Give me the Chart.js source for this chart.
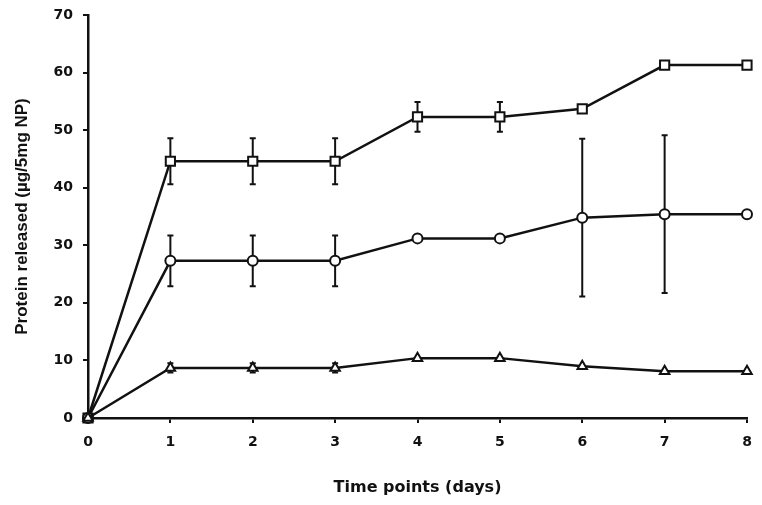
<!DOCTYPE html>
<html>
<head>
<meta charset="utf-8">
<script src="https://cdn.jsdelivr.net/npm/chart.js@4"></script>
<style>
html,body{margin:0;padding:0;background:#fff;}
#wrap{width:762px;height:505px;}
</style>
</head>
<body>
<div id="wrap"><canvas id="c" width="762" height="505"></canvas></div>
<script>
const days = [0, 1, 2, 3, 4, 5, 6, 7, 8];
const squareValues = [0, 44.6, 44.6, 44.6, 52.3, 52.3, 53.7, 61.3, 61.3];
const squareErrors = [0, 4.0, 4.0, 4.0, 2.6, 2.6, 0, 0, 0];
const circleValues = [0, 27.3, 27.3, 27.3, 31.2, 31.2, 34.8, 35.4, 35.4];
const circleErrors = [0, 4.4, 4.4, 4.4, 0, 0, 13.7, 13.7, 0];
const triangleValues = [0, 8.7, 8.7, 8.7, 10.4, 10.4, 9.0, 8.1, 8.1];
const triangleErrors = [0, 0.8, 0.8, 0.8, 0, 0, 0, 0, 0];
const yTicks = [0, 10, 20, 30, 40, 50, 60, 70];

const TICKFONT = "'DejaVu Sans', sans-serif";
const TITLEFONT = "'Liberation Sans', Arial, sans-serif";

function series(vals, style, errs, r) {
  return {
    data: days.map((d, i) => ({x: d, y: vals[i]})),
    errors: errs,
    borderColor: '#111',
    borderWidth: 2.5,
    pointStyle: style,
    pointRadius: r,
    pointBorderWidth: 2,
    pointBackgroundColor: '#fff',
    pointBorderColor: '#111',
    tension: 0,
    fill: false,
    clip: false
  };
}

const errorBars = {
  id: 'errorBars',
  beforeDatasetsDraw(chart) {
    const ctx = chart.ctx;
    const xs = chart.scales.x, ys = chart.scales.y;
    ctx.save();
    ctx.strokeStyle = '#111';
    ctx.lineWidth = 2;
    chart.data.datasets.forEach(ds => {
      ds.data.forEach((p, i) => {
        const e = ds.errors[i];
        if (!e) return;
        const x = xs.getPixelForValue(p.x);
        const y1 = ys.getPixelForValue(p.y + e);
        const y2 = ys.getPixelForValue(p.y - e);
        ctx.beginPath();
        ctx.moveTo(x, y1); ctx.lineTo(x, y2);
        ctx.moveTo(x - 3, y1); ctx.lineTo(x + 3, y1);
        ctx.moveTo(x - 3, y2); ctx.lineTo(x + 3, y2);
        ctx.stroke();
      });
    });
    ctx.restore();
  }
};

new Chart(document.getElementById('c'), {
  type: 'line',
  data: {
    datasets: [
      series(triangleValues, 'triangle', triangleErrors, 5.5),
      series(circleValues, 'circle', circleErrors, 5),
      series(squareValues, 'rect', squareErrors, 6.5)
    ]
  },
  options: {
    responsive: false,
    animation: false,
    layout: {padding: {top: 15, right: 15, left: 0, bottom: 0}},
    plugins: {legend: {display: false}, tooltip: {enabled: false}},
    scales: {
      x: {
        type: 'linear', min: 0, max: 8,
        afterFit(s) { s.height = 87; s.paddingLeft = 0; s.paddingRight = 0; },
        ticks: {stepSize: 1, color: '#111', font: {family: TICKFONT, size: 14, weight: 'bold'}, padding: 11},
        grid: {drawOnChartArea: false, drawTicks: true, tickLength: 5, color: '#111', lineWidth: 2},
        border: {display: true, color: '#111', width: 2.5},
        title: {display: true, text: 'Time points (days)', color: '#111', font: {family: TICKFONT, size: 16, weight: 'bold'}, padding: {top: 0, bottom: 8}}
      },
      y: {
        min: 0, max: 70,
        afterFit(s) { s.width = 88; s.paddingTop = 0; s.paddingBottom = 0; },
        afterBuildTicks(s) { s.ticks = yTicks.map(v => ({value: v})); },
        ticks: {color: '#111', font: {family: TICKFONT, size: 14, weight: 'bold'}, padding: 10},
        grid: {drawOnChartArea: false, drawTicks: true, tickLength: 5, color: '#111', lineWidth: 2},
        border: {display: true, color: '#111', width: 2.5},
        title: {display: true, text: 'Protein released (µg/5mg NP)', color: '#111', font: {family: TITLEFONT, size: 17, weight: 'bold'}, padding: {top: 12, bottom: 0}}
      }
    }
  },
  plugins: [errorBars]
});
</script>
</body>
</html>
